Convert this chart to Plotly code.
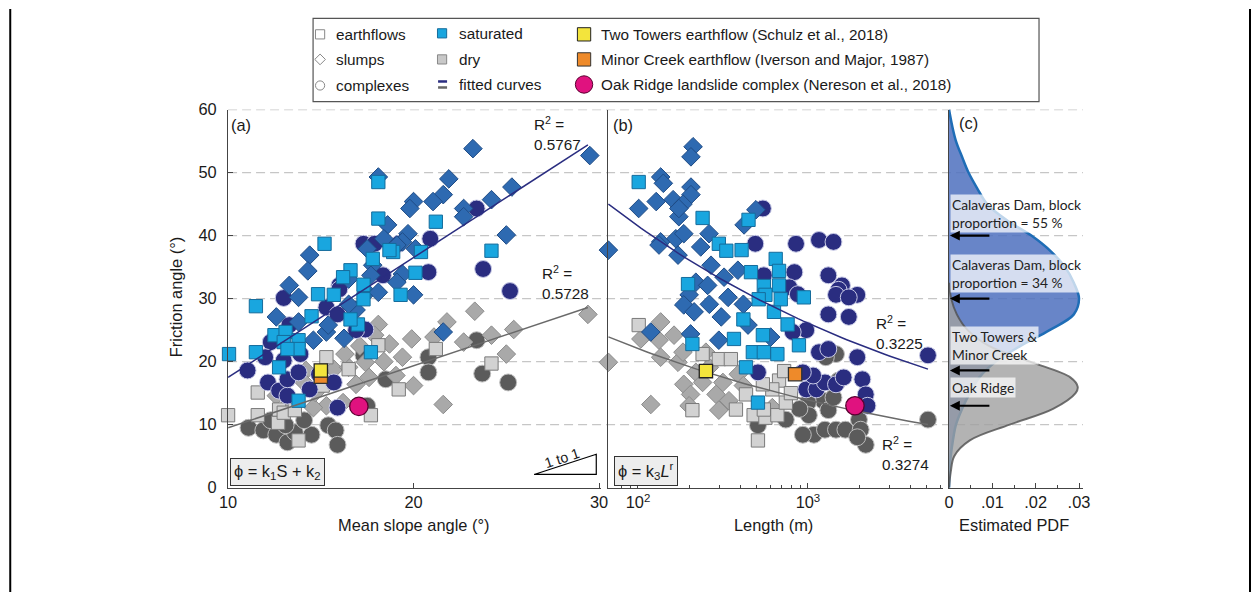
import numpy as np
import plotly.graph_objects as go

# The page is photographed with the 8px body margin and then resized, so reference
# pixel positions R are converted to figure pixels through this fixed mapping.
SX, SY = 1252 / 1268, 592 / 612
MARG = 8
W, H = 1260, 604
def PX(x): return (x / SX - MARG) / W
def PY(y): return 1 - (y / SY - MARG) / H
K = 1 / (0.5 * (SX + SY))   # size compensation for fonts / markers
def fs(s): return round(s * K, 1)

# ---------------- data ----------------
# panel (a): mean slope angle S (deg) vs friction angle F (deg)
a_sat_slump_S = [29.5,23.2,18.1,21.9,21.6,21.05,20.0,19.8,25.3,24.2,22.7,22.7,25.0,18.6,18.4,19.7,19.4,19.1,20.1,17.5,
                 14.4,14.3,17.8,17.7,16.5,19.4,19.1,20.0,13.3,13.8,12.6,13.8,15.3,14.6,16.25,15.4,17.5,16.9,16.5,18.1,21.6]
a_sat_slump_F = [52.7,53.8,49.3,49.0,46.5,45.4,45.4,44.3,47.7,45.7,44.3,43.0,40.1,41.7,39.5,40.3,39.0,38.5,37.9,37.9,
                 36.9,34.4,35.3,33.7,33.1,33.9,32.6,30.6,32.1,30.2,27.1,26.3,24.7,23.4,23.7,25.8,31.0,28.2,29.1,31.0,24.7]
a_sat_flow_S = [10.05,18.1,18.1,21.2,15.2,24.2,20.1,18.9,17.8,16.6,16.2,14.85,15.7,19.3,17.3,20.4,11.5,11.5,12.5,13.1,
                13.0,13.8,13.8,13.2,14.5,17.0,16.6,17.7,18.7,17.3,13.8,12.75]
a_sat_flow_F = [21.2,48.5,42.7,42.2,38.7,37.6,34.1,37.4,36.3,34.5,33.4,30.7,30.6,30.6,32.2,37.4,28.8,21.5,24.2,24.7,
                23.1,23.4,22.0,22.0,27.2,25.9,26.7,21.5,37.7,29.9,13.8,19.1]
a_sat_cplx_S = [23.4,20.9,20.8,23.75,25.2,17.3,17.9,19.2,18.35,16.0,13.0,13.3,12.3,12.0,13.0,13.9,11.05,15.3,15.9,16.0,
                17.4,16.9,12.15,12.75,13.2,13.2,14.4,14.9,15.7,15.9,13.8]
a_sat_cplx_F = [44.3,39.5,34.2,34.7,31.2,38.7,38.7,38.7,33.7,32.1,30.1,25.8,23.1,20.7,20.2,21.2,18.6,28.6,27.5,31.5,
                25.1,25.0,16.7,15.4,14.6,17.2,15.6,18.0,16.7,12.7,18.3]
a_dry_cplx_S = [23.4,23.7,25.1,20.8,20.8,11.1,11.9,12.3,12.6,13.2,13.6,14.5,13.1,14.1,15.4,15.8,15.9,17.5,17.3,18.5]
a_dry_cplx_F = [23.4,18.1,16.7,20.7,18.3,9.5,9.1,10.7,8.4,7.2,8.8,8.4,9.9,10.7,9.9,9.1,6.8,13.0,21.0,17.2]
a_dry_flow_S = [10.0,11.6,11.6,12.7,13.8,12.75,17.7,24.2,21.2,15.3,15.1,19.2,18.1,13.0,13.6,16.5]
a_dry_flow_F = [11.5,15.1,11.5,10.3,7.5,12.4,11.5,19.7,22.0,20.7,16.2,15.6,22.6,11.9,12.3,18.8]
a_dry_slump_S = [29.4,23.3,25.4,24.2,25.0,22.7,21.6,21.8,20.0,19.9,21.1,19.4,19.05,18.1,18.7,17.6,16.9,16.2,15.3,14.6,
                 14.7,14.2,14.1,12.6,13.2,15.7,16.5,17.4,17.9,16.3,17.1,18.4]
a_dry_slump_F = [27.5,28.0,25.1,24.2,21.2,23.1,13.2,26.3,16.2,23.6,23.9,20.7,17.8,25.9,22.8,17.5,16.4,13.5,13.0,12.7,
                 15.1,18.6,16.7,14.6,13.0,18.8,19.1,19.9,24.2,21.2,22.5,20.0]
a_two_towers = (15.0, 18.6)
a_minor_creek = (15.0, 17.6)
a_oak_ridge = (17.05, 12.9)
fit_a_S = [10, 29.4]
fit_a_sat_F = [17.5, 54.4]
fit_a_dry_F = [9.5, 28.6]

# panel (b): length L (m) vs friction angle F (deg)
b_sat_slump_L = [211,205,136,141,205,205,101,128,161,184,174,494,421,67,136,167,186,172,234,262,
                 269,321,387,219,257,133,174,200,119,204,299,186,214,263,309,339,417,444,603]
b_sat_slump_F = [54.1,52.5,49.3,48.3,47.7,46.5,44.3,45.4,45.7,45.0,43.0,44.1,41.7,37.7,39.0,39.5,40.3,36.9,38.2,40.3,
                 35.3,33.4,34.5,32.6,32.1,38.5,44.3,30.6,24.7,24.4,23.4,29.0,27.9,29.1,27.1,30.2,29.1,25.8,23.9]
b_sat_flow_L = [101,240,299,331,407,447,646,676,462,550,676,562,197,508,631,759,543,474,550,661,
                432,367,417,513,692,946,885,209]
b_sat_flow_F = [48.5,42.8,38.7,37.6,37.7,42.5,36.3,34.4,34.2,32.0,32.1,30.6,32.3,13.5,27.9,25.9,24.2,21.5,21.5,21.2,
                19.1,23.6,26.7,29.9,29.9,30.2,22.6,22.8]
b_sat_cplx_L = [543,490,851,1161,1413,550,832,1318,1585,1950,1514,776,871,1318,1738,1462,1738,5082,1161,1318,
                1950,508,977,977,1122,1259,1462,1072,933,1622,2089,2188,2239,813]
b_sat_cplx_F = [44.3,38.7,38.7,39.3,39.0,33.7,34.2,33.7,32.1,30.6,31.4,31.8,30.7,27.5,27.1,30.6,30.2,21.0,21.5,22.0,
                20.7,18.3,25.0,15.6,15.6,16.7,16.4,17.8,18.3,17.5,17.2,14.8,13.0,24.7]
b_dry_cplx_L = [5082,1230,1318,1413,1000,1012,1084,933,1259,1462,1660,1995,2042,2188,1950,1514,1462,1274,508,741,891]
b_dry_cplx_F = [10.8,13.8,12.3,14.3,13.5,11.5,8.4,8.4,9.2,9.2,9.2,10.8,9.2,6.8,8.0,17.0,21.2,20.7,9.9,10.8,12.5]
b_dry_flow_L = [101,508,377,479,562,661,676,617,543,432,299,209,240,352,741,550,724,794]
b_dry_flow_F = [25.8,7.5,12.4,11.5,11.1,11.5,17.0,15.6,16.4,14.8,20.4,12.3,21.2,20.4,13.5,12.4,18.5,15.0]
b_dry_slump_L = [67,119,136,104,133,136,163,172,184,186,204,200,219,240,251,288,299,316,343,389,417,263,617]
b_dry_slump_F = [19.9,13.2,26.3,23.6,23.4,20.7,24.2,19.9,21.5,16.4,14.8,13.0,18.3,16.7,21.5,14.8,12.3,16.7,13.8,18.0,16.2,19.1,12.7]
b_two_towers = (251, 18.5)
b_minor_creek = (840, 18.0)
b_oak_ridge = (1890, 13.0)
fit_b_L_range = [67, 5082]
fit_b_sat = dict(k3=105.0, r=-0.2015)
fit_b_dry = dict(k3=55.7, r=-0.201)

# panel (c): estimated PDFs of friction angle
pdf_sat_F = [0,2.5,5,7.5,10,12.5,15,17.5,20,22.5,25,27.5,30,32.5,35,37.5,40,42.5,45,47.5,50,52.5,55,57.5,60]
pdf_sat = [0,0.0001,0.0004,0.0009,0.0016,0.0030,0.0048,0.0070,0.0108,0.0165,0.0232,0.0288,0.0300,0.0288,0.0268,
           0.0235,0.0190,0.0132,0.0088,0.0065,0.0045,0.0030,0.0016,0.0007,0.0]
pdf_dry_F = [0,2.5,5,7.5,10,12.5,15,16,17.5,20,22.5,25,27.5,30,32.5]
pdf_dry = [0,0.0004,0.0012,0.0048,0.0140,0.0240,0.0292,0.0297,0.0280,0.0187,0.0092,0.0043,0.0018,0.0005,0]

y_ticks = [0,10,20,30,40,50,60]
a_ticks = [10,20,30]
b_ticks = [100,1000]
b_ticktext = ["10<sup>2</sup>","10<sup>3</sup>"]
c_ticks = [0,0.01,0.02,0.03]
c_ticktext = ["0",".01",".02",".03"]

# ---------------- styles ----------------
FONT = "Liberation Sans"
C_SAT_FLOW, C_SAT_SLUMP, C_SAT_CPLX = "#19A6DF", "#2E6AB1", "#2A2D80"
C_DRY_FLOW, C_DRY_SLUMP, C_DRY_CPLX = "#D2D2D2", "#A9A9A9", "#5B5B5B"
SQ, DI, CI = fs(13), fs(14), fs(16.5)

def mk(sym, size, col, lcol, lw=1):
    return dict(symbol=sym, size=size, color=col, line=dict(color=lcol, width=lw))

STY = {
    "dry_cplx": mk("circle", CI, C_DRY_CPLX, "#BDBDBD", 1),
    "dry_slump": mk("diamond", DI, C_DRY_SLUMP, "#8C8C8C", 1),
    "dry_flow": mk("square", SQ, C_DRY_FLOW, "#7A7A7A", 1),
    "sat_cplx": mk("circle", CI, C_SAT_CPLX, "#C8CAE6", 1),
    "sat_slump": mk("diamond", DI, C_SAT_SLUMP, "#1F4C86", 1),
    "sat_flow": mk("square", SQ, C_SAT_FLOW, "#156C9C", 1),
}

fig = go.Figure()

def sc(x, y, key, xa, ya):
    fig.add_trace(go.Scatter(x=x, y=y, mode="markers", marker=STY[key], xaxis=xa, yaxis=ya,
                             cliponaxis=False, showlegend=False, hoverinfo="skip"))

# panel a
sc(a_dry_cplx_S, a_dry_cplx_F, "dry_cplx", "x", "y")
sc(a_dry_slump_S, a_dry_slump_F, "dry_slump", "x", "y")
sc(a_dry_flow_S, a_dry_flow_F, "dry_flow", "x", "y")
sc(a_sat_cplx_S, a_sat_cplx_F, "sat_cplx", "x", "y")
sc(a_sat_slump_S, a_sat_slump_F, "sat_slump", "x", "y")
sc(a_sat_flow_S, a_sat_flow_F, "sat_flow", "x", "y")
# panel b
sc(b_dry_cplx_L, b_dry_cplx_F, "dry_cplx", "x2", "y2")
sc(b_dry_slump_L, b_dry_slump_F, "dry_slump", "x2", "y2")
sc(b_dry_flow_L, b_dry_flow_F, "dry_flow", "x2", "y2")
sc(b_sat_cplx_L, b_sat_cplx_F, "sat_cplx", "x2", "y2")
sc(b_sat_slump_L, b_sat_slump_F, "sat_slump", "x2", "y2")
sc(b_sat_flow_L, b_sat_flow_F, "sat_flow", "x2", "y2")

# fitted curves
fig.add_trace(go.Scatter(x=fit_a_S, y=fit_a_sat_F, mode="lines", line=dict(color="#2A2D80", width=1.5),
                         xaxis="x", yaxis="y", showlegend=False, hoverinfo="skip"))
fig.add_trace(go.Scatter(x=fit_a_S, y=fit_a_dry_F, mode="lines", line=dict(color="#6A6A6A", width=1.5),
                         xaxis="x", yaxis="y", showlegend=False, hoverinfo="skip"))
Lfit = np.geomspace(fit_b_L_range[0], fit_b_L_range[1], 60)
fig.add_trace(go.Scatter(x=Lfit, y=fit_b_sat["k3"] * Lfit ** fit_b_sat["r"], mode="lines",
                         line=dict(color="#2A2D80", width=1.5), xaxis="x2", yaxis="y2", showlegend=False, hoverinfo="skip"))
fig.add_trace(go.Scatter(x=Lfit, y=fit_b_dry["k3"] * Lfit ** fit_b_dry["r"], mode="lines",
                         line=dict(color="#6A6A6A", width=1.5), xaxis="x2", yaxis="y2", showlegend=False, hoverinfo="skip"))

# special landslides
def special(pt, sym, size, col, lcol, xa, ya):
    fig.add_trace(go.Scatter(x=[pt[0]], y=[pt[1]], mode="markers", marker=mk(sym, size, col, lcol, 1.3),
                             xaxis=xa, yaxis=ya, cliponaxis=False, showlegend=False, hoverinfo="skip"))
special(a_minor_creek, "square", fs(13), "#EE8A2A", "#333333", "x", "y")
special(a_two_towers, "square", fs(13), "#F3E43C", "#222222", "x", "y")
special(a_oak_ridge, "circle", fs(18), "#E0127F", "#5A0030", "x", "y")
special(b_two_towers, "square", fs(13), "#F3E43C", "#222222", "x2", "y2")
special(b_minor_creek, "square", fs(13), "#EE8A2A", "#333333", "x2", "y2")
special(b_oak_ridge, "circle", fs(18), "#E0127F", "#5A0030", "x2", "y2")

# panel c PDFs
fig.add_trace(go.Scatter(x=pdf_sat, y=pdf_sat_F, mode="lines", fill="tozerox",
                         fillcolor="rgba(78,112,190,0.85)", line=dict(color="#1F6DB6", width=2.5, shape="spline"),
                         xaxis="x3", yaxis="y3", showlegend=False, hoverinfo="skip"))
fig.add_trace(go.Scatter(x=pdf_dry, y=pdf_dry_F, mode="lines", fill="tozerox",
                         fillcolor="rgba(160,160,160,0.8)", line=dict(color="rgba(80,80,80,0.8)", width=2, shape="spline"),
                         xaxis="x3", yaxis="y3", showlegend=False, hoverinfo="skip"))

# ---------------- legend (overlay axis in reference-pixel units) ----------------
leg_sym = [(319, 33, "square", 9, "white", "#888"), (319, 58, "diamond", 8, "white", "#888"),
           (319, 84, "circle", 9, "white", "#888"),
           (441, 32, "square", 9, C_SAT_FLOW, "#156C9C"), (441, 58, "square", 9, "#C8C8C8", "#888"),
           (583, 33, "square", 13, "#F3E43C", "#222"), (583, 58, "square", 13, "#EE8A2A", "#333"),
           (583, 83, "circle", 17, "#E0127F", "#5A0030")]
for (x, y, s, z, c, lc) in leg_sym:
    fig.add_trace(go.Scatter(x=[x], y=[y], mode="markers", marker=mk(s, fs(z), c, lc, 1), xaxis="x4", yaxis="y4",
                             showlegend=False, hoverinfo="skip"))
fig.add_trace(go.Scatter(x=[437, 446], y=[80, 80], mode="lines", line=dict(color="#2A2D80", width=2.5),
                         xaxis="x4", yaxis="y4", showlegend=False, hoverinfo="skip"))
fig.add_trace(go.Scatter(x=[437, 446], y=[86, 86], mode="lines", line=dict(color="#666", width=2.5),
                         xaxis="x4", yaxis="y4", showlegend=False, hoverinfo="skip"))

ann = []
def txt(x, y, t, size=15, xanchor="left", yanchor="middle", **kw):
    d = dict(x=PX(x), y=PY(y), xref="paper", yref="paper", text=t, showarrow=False, xanchor=xanchor,
             yanchor=yanchor, font=dict(family=FONT, size=fs(size), color="#1a1a1a"))
    d.update(kw)
    ann.append(d)

txt(333, 33, "earthflows"); txt(333, 58, "slumps"); txt(333, 84, "complexes")
txt(456, 32, "saturated"); txt(456, 58, "dry"); txt(456, 83, "fitted curves")
txt(598, 33, "Two Towers earthflow (Schulz et al., 2018)")
txt(598, 58, "Minor Creek earthflow (Iverson and Major, 1987)")
txt(598, 83, "Oak Ridge landslide complex (Nereson et al., 2018)")

# panel labels & R2
txt(228, 123, "(a)", 16); txt(610, 123, "(b)", 16); txt(956, 121, "(c)", 16)
txt(531, 110, "R<sup>2</sup> =<br>0.5767", 15, yanchor="top", align="left")
txt(539, 259, "R<sup>2</sup> =<br>0.5728", 15, yanchor="top", align="left")
txt(873, 309, "R<sup>2</sup> =<br>0.3225", 15, yanchor="top", align="left")
txt(879, 429, "R<sup>2</sup> =<br>0.3274", 15, yanchor="top", align="left")

# equation boxes
txt(229, 483, "ϕ = k<sub>1</sub>S + k<sub>2</sub>", 16, yanchor="bottom", bgcolor="#EDEDED",
    bordercolor="#333", borderwidth=1, borderpad=3)
txt(613, 483, "ϕ = k<sub>3</sub><i>L</i><sup>r</sup>", 16, yanchor="bottom", bgcolor="#EDEDED",
    bordercolor="#333", borderwidth=1, borderpad=3)

# 1 to 1
txt(561, 455, "1 to 1", 14, xanchor="center", textangle=-18)

# axis titles
txt(175, 295, "Friction angle (°)", 16, xanchor="center", textangle=-90)
txt(412, 522, "Mean slope angle (°)", 16, xanchor="center")
txt(772, 522, "Length (m)", 16, xanchor="center")
txt(1013, 522, "Estimated PDF", 16, xanchor="center")

# panel c text boxes
BOXBG = "rgba(255,255,255,0.72)"
for (y, t) in [(192, "Calaveras Dam, block<br>proportion = 55 %"), (252, "Calaveras Dam, block<br>proportion = 34 %"),
               (324, "Two Towers &<br>Minor Creek"), (375, "Oak Ridge")]:
    ann.append(dict(x=PX(949), y=PY(y), xref="paper", yref="paper", text=t, showarrow=False, xanchor="left",
                    yanchor="top", align="left", bgcolor=BOXBG, borderpad=1,
                    font=dict(family="Lato", size=fs(13.5), color="#222")))
for F in [40, 30, 18.6, 13.0]:
    ann.append(dict(x=0.0002, y=F, xref="x3", yref="y3", ax=41, ay=0, text="", showarrow=True,
                    arrowhead=2, arrowsize=0.9, arrowwidth=2.2, arrowcolor="black"))

# ---------------- shapes ----------------
shapes = []
for F in [10, 20, 30, 40, 50, 60]:
    shapes.append(dict(type="line", xref="paper", yref="y", x0=PX(227), x1=PX(1082), y0=F, y1=F,
                       line=dict(color="#C6C6C6", width=1.2, dash="9px,5px"), layer="below"))
# legend frame
shapes.append(dict(type="rect", xref="paper", yref="paper", x0=PX(312), x1=PX(1038), y0=PY(100), y1=PY(17),
                   line=dict(color="#555", width=1.2)))
# 1 to 1 triangle
shapes.append(dict(type="path", xref="x", yref="y", path="M 26.5 2.1 L 29.85 2.1 L 29.85 5.3 Z",
                   line=dict(color="black", width=1.2)))
# outer border lines
shapes.append(dict(type="line", xref="paper", yref="paper", x0=0.001, x1=0.001, y0=0, y1=1,
                   line=dict(color="black", width=2)))
shapes.append(dict(type="line", xref="paper", yref="paper", x0=PX(1249), x1=PX(1249), y0=0, y1=1,
                   line=dict(color="black", width=2)))

YDOM = [PY(485), PY(108)]
axcommon = dict(showgrid=False, zeroline=False, showline=True, linecolor="#444", linewidth=1.2,
                ticks="inside", ticklen=5, tickcolor="#444", tickfont=dict(family=FONT, size=fs(16), color="#1a1a1a"),
                fixedrange=True)
axnotick = {k: v for k, v in axcommon.items() if k != "ticks"}

fig.update_layout(
    width=W, height=H, margin=dict(l=0, r=0, t=0, b=0),
    paper_bgcolor="white", plot_bgcolor="rgba(0,0,0,0)",
    xaxis=dict(domain=[PX(227), PX(600)], range=[10, 10 + 373 / 18.55], anchor="y",
               tickvals=a_ticks, **axcommon),
    yaxis=dict(domain=YDOM, range=[0, 60], anchor="x", tickvals=y_ticks, ticklabelstandoff=7, **axcommon),
    xaxis2=dict(domain=[PX(607), PX(942)], type="log", range=[1.824, 1.824 + 335 / 170], anchor="y2",
                tickvals=b_ticks, ticktext=b_ticktext,
                minor=dict(ticks="inside", ticklen=3, tickcolor="#444",
                           tickvals=[80, 90, 200, 300, 400, 500, 600, 700, 800, 900, 2000, 3000, 4000, 5000, 6000]),
                **axcommon),
    yaxis2=dict(domain=YDOM, range=[0, 60], anchor="x2", showticklabels=False, ticks="", **axnotick),
    xaxis3=dict(domain=[PX(948), PX(1082)], range=[0, 0.03 * 134 / 130], anchor="y3",
                tickvals=c_ticks, ticktext=c_ticktext,
                minor=dict(ticks="inside", ticklen=3, tickcolor="#444", tickvals=[0.005, 0.015, 0.025]),
                **axcommon),
    yaxis3=dict(domain=YDOM, range=[0, 60], anchor="x3", showticklabels=False, ticks="", **axnotick),
    xaxis4=dict(domain=[0, 1], range=[MARG * SX, (W + MARG) * SX], visible=False, fixedrange=True, anchor="y4"),
    yaxis4=dict(domain=[0, 1], range=[(H + MARG) * SY, MARG * SY], visible=False, fixedrange=True, anchor="x4"),
    annotations=ann, shapes=shapes, showlegend=False,
    font=dict(family=FONT),
)

fig.write_html("out.html")
